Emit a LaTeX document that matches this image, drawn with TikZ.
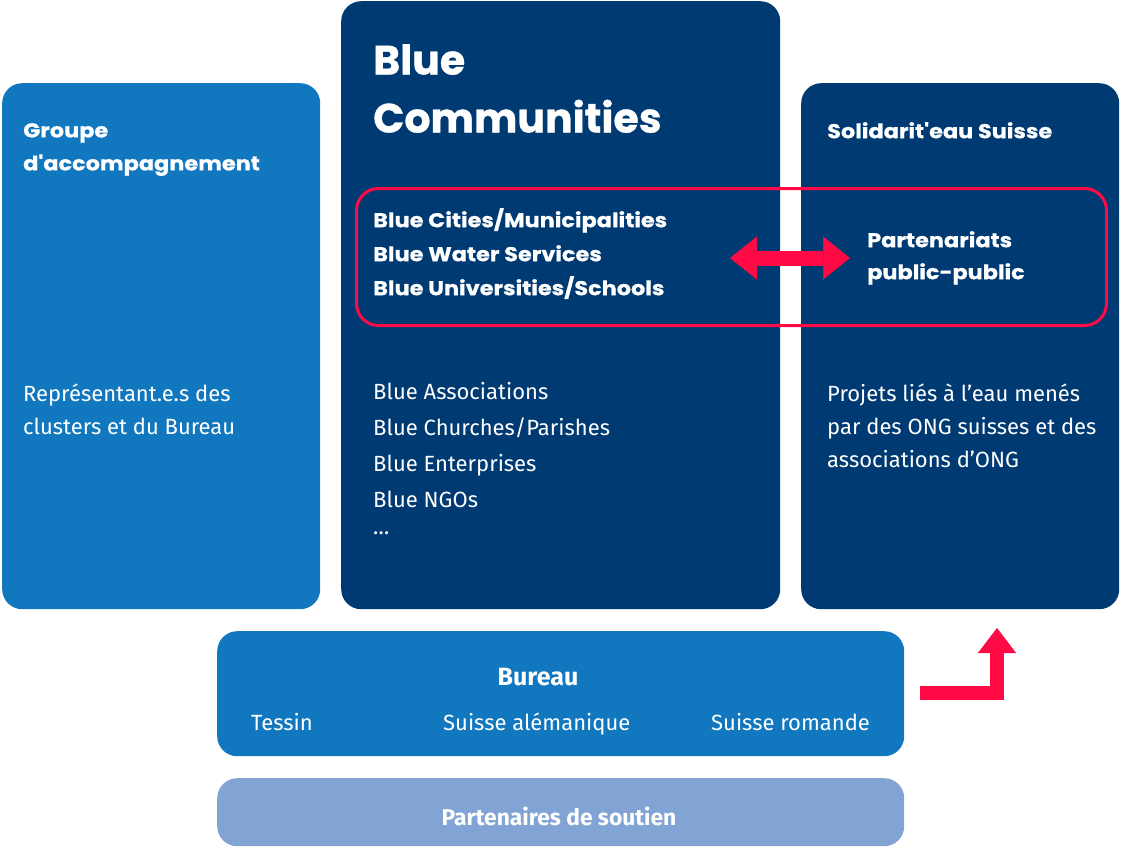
\documentclass[tikz,border=0pt]{standalone}
\usepackage{fontspec}
\setmainfont{Fira Sans}
\newfontfamily\headfont{Poppins}[BoldFeatures={FakeBold=0.8}]
\newfontfamily\headwide{Poppins}[FakeStretch=1.12, BoldFeatures={FakeBold=0.6}]
\usetikzlibrary{positioning,arrows.meta}
\definecolor{lightblue}{HTML}{1177BF}
\definecolor{navy}{HTML}{003A73}
\definecolor{soft}{HTML}{82A4D4}
\definecolor{alert}{HTML}{FF0A45}
\tikzset{every node/.style={align=left, text=white, inner sep=0pt},
  panel/.style={rounded corners=20pt, anchor=north west},
  head/.style={anchor=north west, font=\headwide\bfseries\fontsize{20}{33}\selectfont},
  body/.style={anchor=north west, font=\fontsize{22}{33}\selectfont},
  fat/.tip={Triangle[length=27pt, width=43pt, line width=0.5pt]},
  fatup/.tip={Triangle[length=25pt, width=38pt, line width=0.5pt]}}

\begin{document}
\begin{tikzpicture}[x=1pt, y=-1pt]
    \useasboundingbox (0,0) rectangle (1121,863);
    % panels
    \node [panel, fill=lightblue, minimum width=318pt, minimum height=526pt] (grp) at (2,83) {};
    \node [panel, fill=navy, minimum width=439pt, minimum height=608pt] (bc) at (341,1) {};
    \node [panel, fill=navy, minimum width=318pt, minimum height=526pt] (sol) at (801,83) {};
    \node [panel, fill=lightblue, minimum width=687pt, minimum height=125pt] (bur) at (217,631) {};
    \node [panel, fill=soft, minimum width=687pt, minimum height=68pt] (sout) at (217,778) {};
    \node [draw=alert, line width=3pt, rounded corners=22pt, minimum width=750pt, minimum height=137pt,
        anchor=north west] (ppp) at (355,187) {};
    % texts
    \node [head] (grpt) at (23,123) {Groupe\\d'accompagnement};
    \node [body] (grpb) at (23,384) {Représentant.e.s des\\clusters et du Bureau};
    \node [head, font=\headfont\bfseries\fontsize{41}{58}\selectfont] (bct) at (373,44) {Blue\\Communities};
    \node [head, font=\headwide\bfseries\fontsize{20}{34}\selectfont] (bcl) at (373,208)
        {Blue Cities/Municipalities\\Blue Water Services\\Blue Universities/Schools};
    \node [body, font=\fontsize{22}{36}\selectfont] (bcb) at (373,382)
        {Blue Associations\\Blue Churches/Parishes\\Blue Enterprises\\Blue NGOs\\[-9pt]\ldots};
    \node [head] (solt) at (827,122) {Solidarit'eau Suisse};
    \node [head, font=\headwide\bfseries\fontsize{20}{32}\selectfont] (part) at (867,231) {Partenariats\\public-public};
    \node [body] (solb) at (827,384) {Projets liés à l'eau menés\\par des ONG suisses et des\\associations d'ONG};
    \node [font=\bfseries\fontsize{25}{28}\selectfont, anchor=base] (burt) at (538,685) {Bureau};
    \node [body, anchor=base west] (tes) at (251,730) {Tessin};
    \node [body, anchor=base west] (sal) at (443,730) {Suisse alémanique};
    \node [body, anchor=base west] (sro) at (711,730) {Suisse romande};
    \node [font=\bfseries\fontsize{22.8}{26}\selectfont, anchor=base] (soutt) at (559,825) {Partenaires de soutien};
    % arrows
    \coordinate (al) at (730,258);
    \coordinate (ar) at (850,258);
    \draw [alert, line width=15pt, {fat}-{fat}] (al) -- (ar);
    \coordinate (ba) at (920,693);
    \coordinate (bt) at (997,628);
    \draw [alert, line width=14pt, -{fatup}] (ba) -| (bt);
\end{tikzpicture}
\end{document}
